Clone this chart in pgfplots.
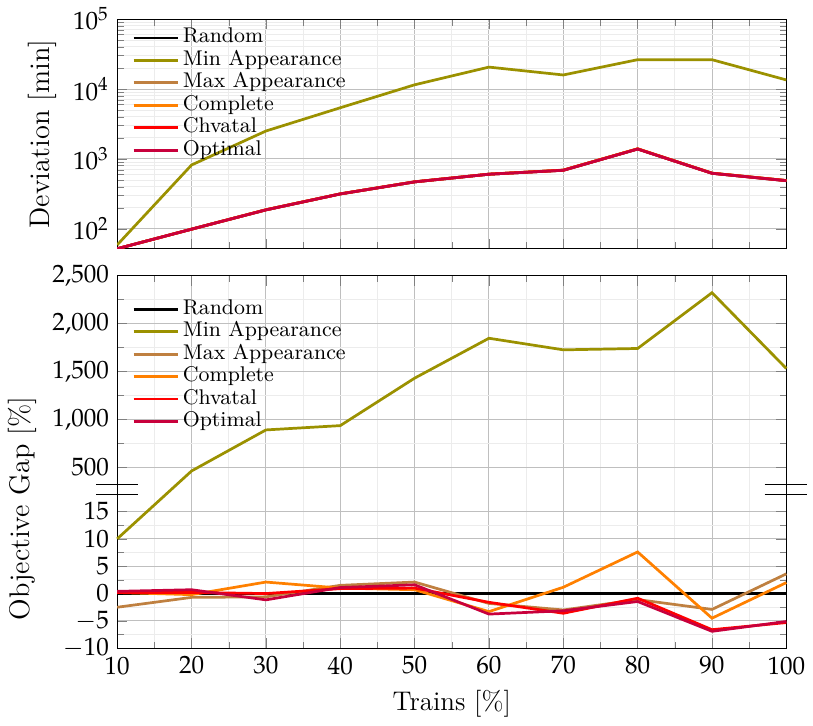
\documentclass[border=0pt]{standalone}
\usepackage{mathpazo}
\usepackage{pgfplots}
\pgfplotsset{compat=1.18}
\definecolor{cmin}{RGB}{155,145,0}
\definecolor{cmax}{RGB}{191,128,64}
\definecolor{ccomp}{RGB}{255,128,0}
\definecolor{cchv}{RGB}{255,0,0}
\definecolor{copt}{RGB}{200,0,60}

\pgfplotsset{
  common/.style={
    scale only axis, width=283pt,
    xmin=10, xmax=100,
    xtick={10,20,...,100}, minor xtick={15,25,...,95},
    grid=both,
    major grid style={gray!50},
    minor grid style={gray!15},
    enlargelimits=false,
    tick label style={font=\fontsize{10.6}{12}\selectfont},
    xlabel style={font=\fontsize{11.4}{13}\selectfont},
    ylabel style={font=\fontsize{12}{14}\selectfont},
    every axis plot/.append style={line width=1.15pt},
    legend cell align=left,
    legend style={draw=none, fill=none, font=\fontsize{9}{11}\selectfont, anchor=north west,
      nodes={inner ysep=0.3pt, inner xsep=1.5pt, text height=6.6pt, text depth=2.3pt}},
    legend image code/.code={\draw[#1] (0cm,0cm) -- (0.66cm,0cm);},
  }
}

\begin{document}
\begin{tikzpicture}
% bottom (broken) axis
\begin{axis}[common, name=bot, at={(0,0)}, anchor=south west,
  height=157.6pt,
  clip=false,
  y coord trafo/.code={\pgfmathparse{#1<=20 ? #1 : 14.35+0.01748*#1}},
  y coord inv trafo/.code={\pgfmathparse{#1<=20 ? #1 : (#1-14.35)/0.01748}},
  ymin=-10, ymax=2500,
  ytick={-10,-5,0,5,10,15,500,1000,1500,2000,2500},
  yticklabels={$-10$,$-5$,$0$,$5$,$10$,$15$,$500$,$1{,}000$,$1{,}500$,$2{,}000$,$2{,}500$},
  minor ytick={-7.5,-2.5,2.5,7.5,12.5,750,1250,1750,2250},
  xlabel={Trains [\%]},
  ylabel={Objective Gap [\%]},
  every axis y label/.append style={at={(ticklabel cs:0.375)}},
  legend style={at={(0.011,0.954)}},
]
\addplot[black] coordinates {(10,0) (20,0) (30,0) (40,0) (50,0) (60,0) (70,0) (80,0) (90,0) (100,0)};
\addlegendentry{Random}
\addplot[cmin] coordinates {(10,10) (20,460) (30,889) (40,934) (50,1430) (60,1847) (70,1726) (80,1740) (90,2323) (100,1531)};
\addlegendentry{Min Appearance}
\addplot[cmax] coordinates {(10,-2.5) (20,-0.7) (30,-0.6) (40,1.5) (50,2.1) (60,-1.8) (70,-3.0) (80,-1.1) (90,-2.9) (100,3.6)};
\addlegendentry{Max Appearance}
\addplot[ccomp] coordinates {(10,0.2) (20,-0.2) (30,2.1) (40,1.0) (50,0.7) (60,-3.3) (70,1.15) (80,7.6) (90,-4.5) (100,2.0)};
\addlegendentry{Complete}
\addplot[cchv] coordinates {(10,0.2) (20,0.2) (30,0.0) (40,0.9) (50,1.0) (60,-1.6) (70,-3.6) (80,-0.85) (90,-6.6) (100,-5.3)};
\addlegendentry{Chvatal}
\addplot[copt] coordinates {(10,0.4) (20,0.7) (30,-1.15) (40,1.1) (50,1.6) (60,-3.75) (70,-3.15) (80,-1.45) (90,-6.9) (100,-5.1)};
\addlegendentry{Optimal}
\draw[black, line width=0.5pt] (rel axis cs:-0.031,0.44) -- (rel axis cs:0.031,0.44);
\draw[black, line width=0.5pt] (rel axis cs:-0.031,0.412) -- (rel axis cs:0.031,0.412);
\draw[black, line width=0.5pt] (rel axis cs:0.9676,0.44) -- (rel axis cs:1.031,0.44);
\draw[black, line width=0.5pt] (rel axis cs:0.9676,0.412) -- (rel axis cs:1.031,0.412);
\end{axis}

% top log axis
\begin{axis}[common, name=top, at={(0,169pt)}, anchor=south west,
  height=97.1pt,
  ymode=log, ymin=52, ymax=1e5,
  ytick={1e2,1e3,1e4,1e5},
  xticklabels={},
  ylabel={Deviation [min]},
  legend style={at={(0.011,0.99)}},
]
\addplot[black] coordinates {(10,52) (20,99) (30,187) (40,316) (50,470) (60,605) (70,690) (80,1390) (90,625) (100,490)};
\addlegendentry{Random}
\addplot[cmin] coordinates {(10,59) (20,820) (30,2510) (40,5400) (50,11500) (60,20600) (70,15900) (80,26300) (90,26300) (100,13500)};
\addlegendentry{Min Appearance}
\addplot[cmax] coordinates {(10,52) (20,99) (30,187) (40,316) (50,470) (60,605) (70,690) (80,1390) (90,625) (100,490)};
\addlegendentry{Max Appearance}
\addplot[ccomp] coordinates {(10,52) (20,99) (30,188) (40,317) (50,472) (60,607) (70,693) (80,1400) (90,627) (100,492)};
\addlegendentry{Complete}
\addplot[cchv] coordinates {(10,52) (20,99) (30,187) (40,316) (50,470) (60,605) (70,690) (80,1390) (90,625) (100,490)};
\addlegendentry{Chvatal}
\addplot[copt] coordinates {(10,52) (20,99) (30,187) (40,316) (50,470) (60,605) (70,688) (80,1385) (90,623) (100,488)};
\addlegendentry{Optimal}
\end{axis}
\end{tikzpicture}
\end{document}
